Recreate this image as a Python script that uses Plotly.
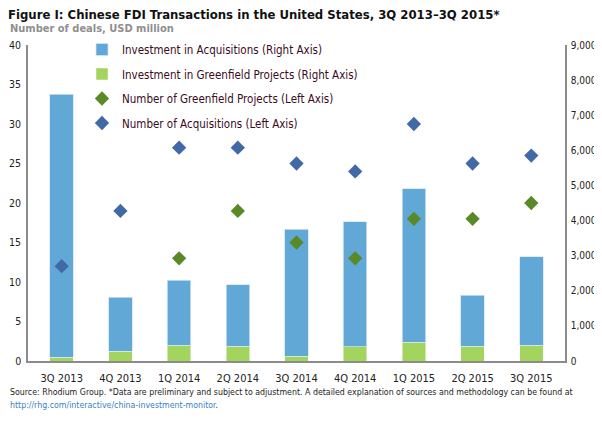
import plotly.graph_objects as go

quarters = ["3Q 2013", "4Q 2013", "1Q 2014", "2Q 2014", "3Q 2014",
            "4Q 2014", "1Q 2015", "2Q 2015", "3Q 2015"]
acq_investment = [7490, 1540, 1860, 1756, 3620, 3560, 4370, 1450, 2520]
greenfield_investment = [110, 276, 447, 420, 130, 410, 540, 420, 450]
greenfield_count = [None, None, 13, 19, 15, 13, 18, 18, 20]
acq_count = [12, 19, 27, 27, 25, 24, 30, 25, 26]

FONT = "DejaVu Sans Condensed, Roboto, sans-serif"
TXT = "#3a0b24"

fig = go.Figure()
fig.add_trace(go.Bar(x=quarters, y=greenfield_investment,
                     name="Investment in Greenfield Projects (Right Axis)",
                     marker=dict(color="#a2d45e", line=dict(width=0.8, color="rgba(255,255,255,0.6)")),
                     yaxis="y", legendrank=2, legendgroup="b"))
fig.add_trace(go.Bar(x=quarters, y=acq_investment,
                     name="Investment in Acquisitions (Right Axis)",
                     marker=dict(color="#62a8d6", line=dict(width=0.8, color="rgba(210,230,245,0.9)")),
                     yaxis="y", legendrank=1, legendgroup="a"))
fig.add_trace(go.Scatter(x=quarters, y=greenfield_count, mode="markers",
                         name="Number of Greenfield Projects (Left Axis)",
                         marker=dict(symbol="diamond", size=11, color="#5a8a28"),
                         yaxis="y2", legendrank=3, legendgroup="c"))
fig.add_trace(go.Scatter(x=quarters, y=acq_count, mode="markers",
                         name="Number of Acquisitions (Left Axis)",
                         marker=dict(symbol="diamond", size=11, color="#4169a6"),
                         yaxis="y2", legendrank=4, legendgroup="d"))

# The page body has an 8px default margin; work in page coordinates.
OFF = 8
W, H = 602 - OFF, 421 - OFF
L = 28 - OFF
T = 45 - OFF
R = W - (565 - OFF)
B = H - (361 - OFF)
pw, ph = W - L - R, H - T - B

def px(x):
    return (x - OFF - L) / pw

def py(y):
    return (H - B - (y - OFF)) / ph

fig.update_layout(
    width=W, height=H,
    margin=dict(l=L, r=R, t=T, b=B, autoexpand=False),
    plot_bgcolor="white", paper_bgcolor="white",
    barmode="stack", bargap=0.6,
    font=dict(family=FONT, size=11, color="#222222"),
    title=dict(text="<b>Figure I: Chinese FDI Transactions in the United States, 3Q 2013–3Q 2015*</b>",
               xref="container", yref="container", x=0.0, y=1 - 2 / H,
               xanchor="left", yanchor="top", pad=dict(t=0, l=0),
               font=dict(family=FONT, size=13, color="#111111")),
    xaxis=dict(showline=True, linecolor="#8c8c8c", linewidth=1.5, ticks="",
               ticklabelstandoff=6,
               tickfont=dict(size=11, color="#222222"), showgrid=False),
    yaxis=dict(side="right", range=[0, 9000], dtick=1000, tickformat=",",
               showline=True, linecolor="#8c8c8c", linewidth=1.5, showgrid=False,
               zeroline=False, ticks="", ticklabelstandoff=2,
               tickfont=dict(size=10, color="#222222")),
    yaxis2=dict(side="left", overlaying="y", range=[0, 40], dtick=5,
                showline=True, linecolor="#8c8c8c", linewidth=1.5, showgrid=False,
                zeroline=False, ticks="", ticklabelstandoff=3,
                tickfont=dict(size=10.5, color="#222222")),
    legend=dict(x=px(82), y=py(35), xanchor="left", yanchor="top",
                traceorder="grouped", tracegroupgap=5.5, itemwidth=30,
                bgcolor="rgba(0,0,0,0)",
                font=dict(family=FONT, size=11.5, color=TXT)),
    annotations=[
        dict(text="<b>Number of deals, USD million</b>", xref="paper", yref="paper",
             x=px(8), y=py(29), xanchor="left", yanchor="middle", showarrow=False,
             font=dict(family=FONT, size=11, color="#8f8f8f")),
        dict(text="Source: Rhodium Group. *Data are preliminary and subject to adjustment. "
                  "A detailed explanation of sources and methodology can be found at",
             xref="paper", yref="paper", x=px(8), y=py(392), xanchor="left", yanchor="middle",
             align="left", showarrow=False,
             font=dict(family=FONT, size=8.75, color="#222222")),
        dict(text="<span style='color:#3a7fc1'>http://rhg.com/interactive/china-investment-monitor</span>.",
             xref="paper", yref="paper", x=px(8), y=py(405), xanchor="left", yanchor="middle",
             align="left", showarrow=False,
             font=dict(family=FONT, size=8.75, color="#222222")),
    ],
)

fig.write_html("out.html")
